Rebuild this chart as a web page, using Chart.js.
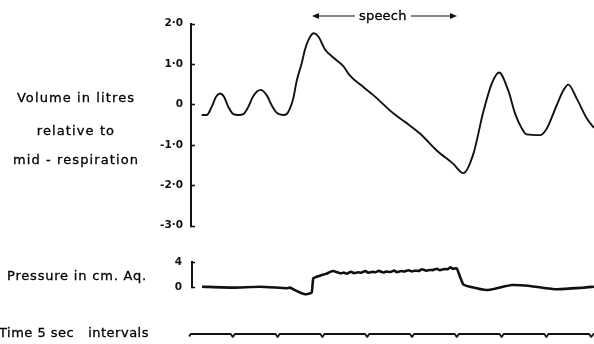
<!DOCTYPE html>
<html>
<head>
<meta charset="utf-8">
<script src="https://cdn.jsdelivr.net/npm/chart.js@4.4.1/dist/chart.umd.min.js"></script>
<style>
  html,body{margin:0;padding:0;background:#fff;}
  #wrap{position:relative;width:594px;height:344px;overflow:hidden;background:#fff;}
  canvas{position:absolute;left:0;}
  .lbl{position:absolute;font-family:"DejaVu Sans",sans-serif;font-size:13px;color:#000;white-space:pre;line-height:15px;-webkit-text-stroke:0.3px #000;}
  .ctr{text-align:center;width:152px;left:0;letter-spacing:1.1px;}
</style>
</head>
<body>
<div id="wrap">
  <canvas id="cVol" width="594" height="240" style="top:0"></canvas>
  <canvas id="cPres" width="594" height="80" style="top:240px"></canvas>
  <canvas id="cTime" width="594" height="29" style="top:315px"></canvas>
  <div class="lbl ctr" style="top:90px">Volume in litres</div>
  <div class="lbl ctr" style="top:123px">relative to</div>
  <div class="lbl ctr" style="top:152px">mid - respiration</div>
  <div class="lbl" style="left:7px;top:268px;letter-spacing:0.8px">Pressure in cm. Aq.</div>
  <div class="lbl" style="left:-1px;top:325px;letter-spacing:0.5px">Time 5 sec   intervals</div>
  <div class="lbl" id="speech" style="top:8px;letter-spacing:0.2px">speech</div>
</div>
<script>
// ---- Data (time in seconds) ----
const volTime = [1.53,2.09,2.64,3.13,3.57,4.02,4.50,5.06,5.62,6.18,6.73,7.29,8.11,8.78,9.34,9.97,10.64,11.01,11.38,11.75,12.13,12.69,13.06,13.54,14.06,14.55,15.29,16.22,17.33,18.08,19.57,20.68,22.91,24.33,25.89,27.76,29.61,30.73,31.84,32.96,33.89,34.71,35.75,36.50,37.22,37.78,39.29,40.03,41.15,41.90,42.44,43.37,44.50,45.31];
const volLitres = [-0.26,-0.26,-0.06,0.19,0.27,0.19,-0.06,-0.24,-0.26,-0.24,-0.06,0.21,0.36,0.23,-0.02,-0.22,-0.26,-0.24,-0.10,0.15,0.58,1.02,1.36,1.64,1.76,1.68,1.36,1.16,0.95,0.71,0.43,0.23,-0.22,-0.45,-0.72,-1.14,-1.47,-1.70,-1.23,-0.18,0.51,0.79,0.34,-0.22,-0.58,-0.74,-0.76,-0.60,-0.02,0.35,0.49,0.15,-0.34,-0.58];

const presTime = [1.56,5.06,8.04,11.0,11.38,12.13,13.06,13.80,13.99,14.73,15.40,16.15,17.0,17.4,17.7,18.2,18.5,19.0,19.3,19.8,20.1,20.6,20.9,21.3,21.8,22.1,22.6,23.0,23.3,23.8,24.1,24.6,25.0,25.3,25.8,26.1,26.6,27.0,27.3,27.8,28.1,28.6,29.0,29.3,29.6,29.99,30.36,30.73,31.47,33.34,34.45,36.13,38.17,41.15,44.12,45.31];
const presCm = [0.05,-0.10,0.05,-0.20,-0.10,-0.64,-1.17,-0.90,1.39,1.81,2.10,2.56,2.19,2.30,2.12,2.45,2.22,2.35,2.28,2.55,2.30,2.42,2.36,2.58,2.32,2.46,2.40,2.62,2.38,2.55,2.48,2.68,2.50,2.60,2.58,2.85,2.60,2.72,2.70,2.92,2.68,2.88,2.85,3.15,2.90,3.00,1.65,0.43,0.05,-0.48,-0.21,0.32,0.16,-0.37,-0.11,0.05];

const timeMarkT = [0.12,0.35,4.75,5.0,5.25,9.75,10.0,10.25,14.75,15.0,15.25,19.75,20.0,20.25,24.75,25.0,25.25,29.75,30.0,30.25,34.75,35.0,35.25,39.75,40.0,40.25,44.75,45.0,45.25,45.31];
const timeMarkV = [-0.8,0,0,-1,0,0,-1,0,0,-1,0,0,-1,0,0,-1,0,0,-1,0,0,-1,0,0,-1,0,0,-1,0,0];

const volTicks = [2,1,0,-1,-2,-3];
const volTickLabels = ['2·0','1·0','0','-1·0','-2·0','-3·0'];
const presTicks = [0,4];
const presTickLabels = ['0','4'];
const speechStart = 13.84, speechEnd = 30.02;

// ---- Geometry of the shared time axis ----
const T_AT_X0 = 188, PX_PER_S = 8.96, X_RIGHT = 594;
const tAt = x => (x - T_AT_X0) / PX_PER_S;
const INK = '#111';

const pts = (xs, ys) => xs.map((x, i) => ({x, y: ys[i]}));

const inwardTicks = {
  id: 'inwardTicks',
  afterDraw(chart, args, opts) {
    const s = chart.scales.y, ctx = chart.ctx;
    ctx.save();
    ctx.strokeStyle = INK; ctx.lineWidth = 1.6;
    opts.values.forEach(v => {
      const y = Math.round(s.getPixelForValue(v)) + 0.5;
      ctx.beginPath(); ctx.moveTo(s.right - 1, y); ctx.lineTo(s.right + opts.len, y); ctx.stroke();
    });
    ctx.restore();
  }
};

const speechArrows = {
  id: 'speechArrows',
  afterDraw(chart, args, opts) {
    const xs = chart.scales.x, ctx = chart.ctx;
    const a = xs.getPixelForValue(opts.start), b = xs.getPixelForValue(opts.end);
    const mid = (a + b) / 2 - 1.5, gap = 28, y = opts.y;
    ctx.save();
    ctx.strokeStyle = INK; ctx.fillStyle = INK; ctx.lineWidth = 1.2;
    ctx.beginPath(); ctx.moveTo(a + 4, y); ctx.lineTo(mid - gap, y); ctx.stroke();
    ctx.beginPath(); ctx.moveTo(mid + gap, y); ctx.lineTo(b - 4, y); ctx.stroke();
    ctx.beginPath(); ctx.moveTo(a, y); ctx.lineTo(a + 7, y - 3); ctx.lineTo(a + 7, y + 3); ctx.closePath(); ctx.fill();
    ctx.beginPath(); ctx.moveTo(b, y); ctx.lineTo(b - 7, y - 3); ctx.lineTo(b - 7, y + 3); ctx.closePath(); ctx.fill();
    ctx.restore();
    const el = document.getElementById('speech');
    el.style.left = (mid - el.offsetWidth / 2) + 'px';
  }
};

function makeChart(id, cfg) {
  const yLeft = cfg.left;
  return new Chart(document.getElementById(id), {
    type: 'line',
    data: { datasets: [{
      data: pts(cfg.xs, cfg.ys),
      borderColor: INK, borderWidth: cfg.lw, pointRadius: 0,
      cubicInterpolationMode: cfg.smooth ? 'monotone' : 'default',
      tension: cfg.smooth ? 0.4 : 0.15, fill: false, clip: false
    }]},
    options: {
      responsive: false, animation: false, devicePixelRatio: 1,
      layout: { padding: { left: 0, right: 0, top: cfg.top, bottom: cfg.bottom } },
      plugins: Object.assign({ legend: { display: false }, tooltip: { enabled: false } }, cfg.plugOpts || {}),
      scales: {
        x: { type: 'linear', display: false, min: tAt(yLeft), max: tAt(X_RIGHT) },
        y: {
          display: true, min: cfg.min, max: cfg.max,
          afterFit: s => { s.width = yLeft; },
          afterBuildTicks: s => { s.ticks = (cfg.tickVals || []).map(v => ({ value: v })); },
          grid: { display: false, drawTicks: false },
          border: { display: cfg.showY, color: INK, width: 2 },
          ticks: {
            display: cfg.showY,
            padding: cfg.tickPad || 8, color: INK,
            font: { family: 'DejaVu Sans', size: 10.5, weight: 'bold' },
            callback: v => { const i = cfg.tickVals ? cfg.tickVals.indexOf(v) : -1; return i >= 0 ? cfg.tickLabels[i] : ''; }
          }
        }
      }
    },
    plugins: cfg.plugins || []
  });
}

makeChart('cVol', {
  xs: volTime, ys: volLitres, lw: 1.9, smooth: true,
  left: 191, top: 23.6, bottom: 240 - 228.3, min: -3, max: 2, showY: true,
  tickVals: volTicks, tickLabels: volTickLabels, tickPad: 8,
  plugOpts: { inwardTicks: { values: volTicks, len: 4 }, speechArrows: { start: speechStart, end: speechEnd, y: 16 } },
  plugins: [inwardTicks, speechArrows]
});

makeChart('cPres', {
  xs: presTime, ys: presCm, lw: 2.6, smooth: false,
  left: 192, top: 22, bottom: 80 - 47, min: 0, max: 4, showY: true,
  tickVals: presTicks, tickLabels: presTickLabels, tickPad: 10,
  plugOpts: { inwardTicks: { values: presTicks, len: 3 } },
  plugins: [inwardTicks]
});

makeChart('cTime', {
  xs: timeMarkT, ys: timeMarkV, lw: 1.8, smooth: false,
  left: 189, top: 19, bottom: 29 - 22, min: -1, max: 0, showY: false
});
</script>
</body>
</html>
